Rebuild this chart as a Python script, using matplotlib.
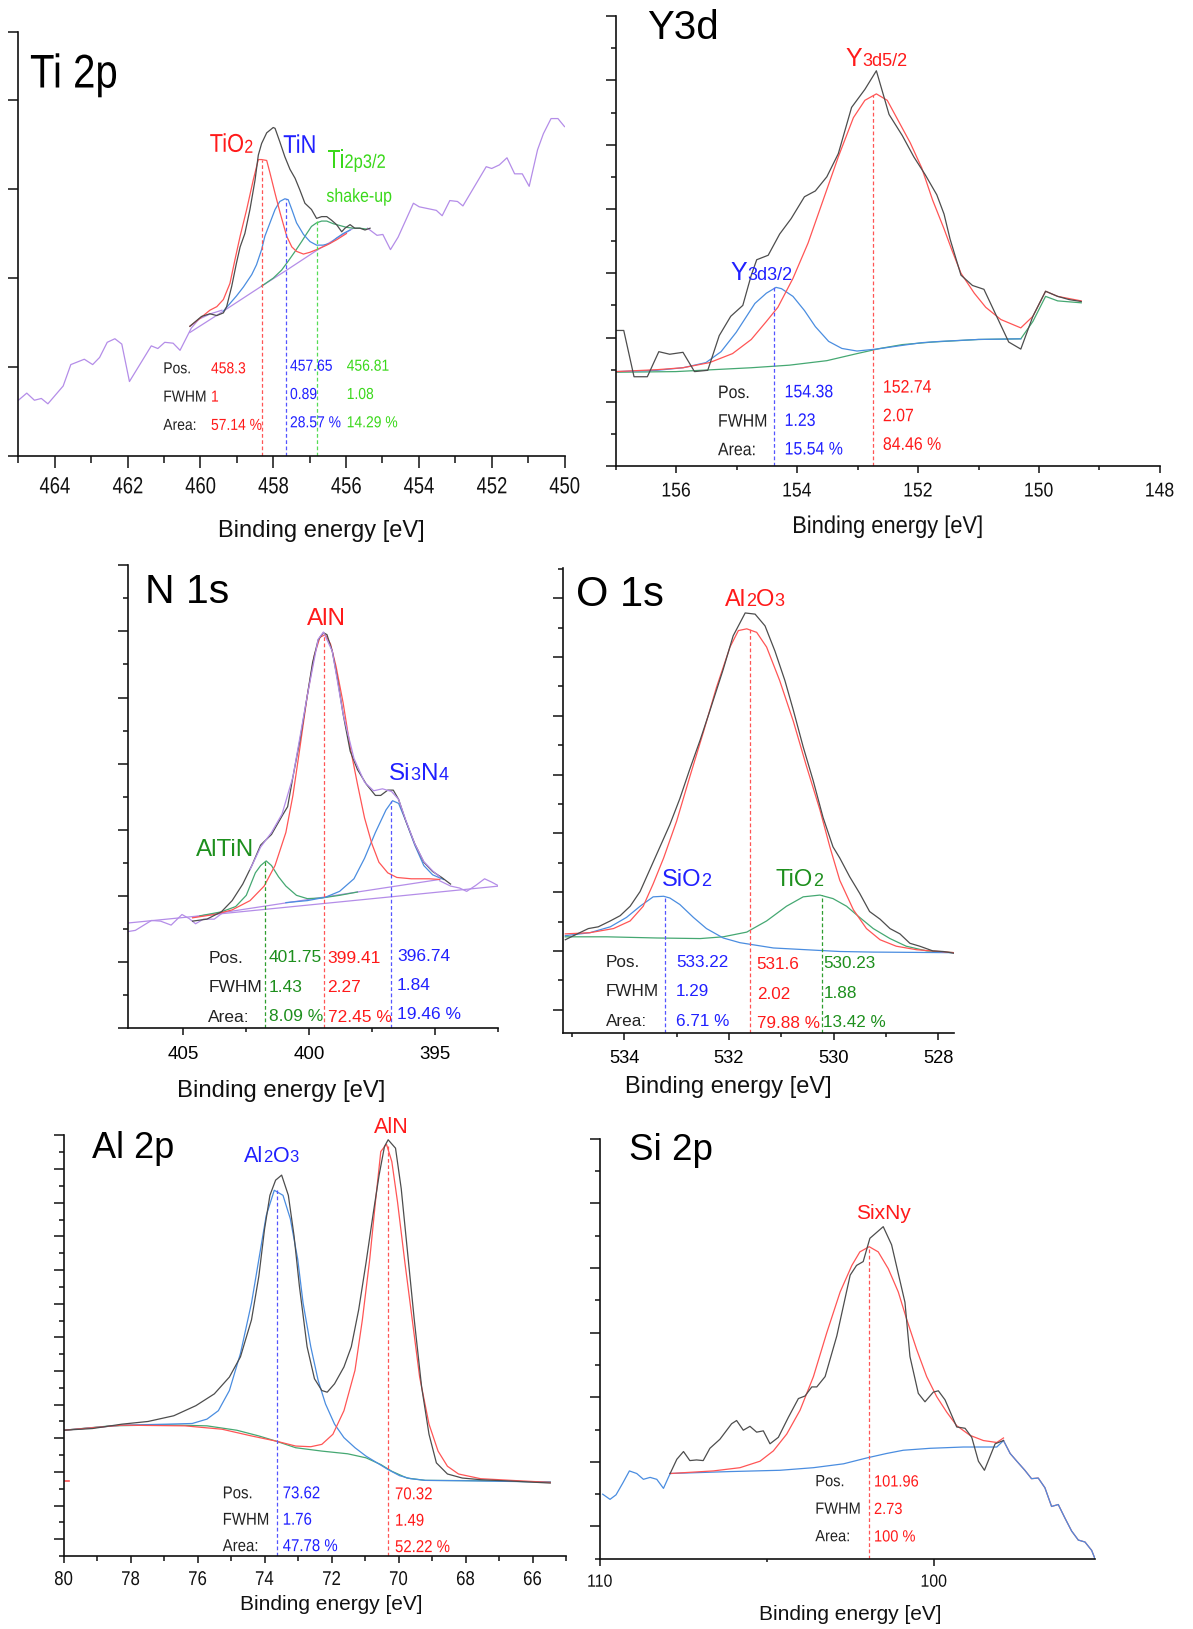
import matplotlib
matplotlib.use("Agg")
import matplotlib.pyplot as plt
from matplotlib.ticker import MultipleLocator, FixedLocator, FormatStrFormatter
from matplotlib.transforms import IdentityTransform, Affine2D
from matplotlib.textpath import TextPath
from matplotlib.patches import PathPatch
from matplotlib.font_manager import FontProperties

# ---------------- data (intensity in a.u., one major y tick = 10) ----------------
# Ti 2p
ti_bg_lx = [465.00, 464.77, 464.56, 464.37, 464.19, 463.77, 463.56, 463.19, 462.96, 462.77, 462.56, 462.35,
            462.16, 461.95, 461.35, 461.17, 460.98, 460.75, 460.56, 460.25, 460.04, 459.72, 459.41]
ti_bg_ly = [6.3, 7.1, 6.3, 6.5, 5.9, 7.9, 10.3, 10.9, 10.3, 11.1, 12.8, 13.2,
            12.6, 8.4, 12.4, 12.1, 12.8, 12.7, 11.9, 14.4, 15.4, 16.0, 16.4]
ti_bg_rx = [455.41, 455.15, 454.99, 454.78, 454.57, 454.15, 453.99, 453.52, 453.36, 453.15, 452.94, 452.79,
            452.15, 452.00, 451.79, 451.58, 451.37, 451.16, 450.97, 450.74, 450.58, 450.37, 450.18, 450.00]
ti_bg_ry = [25.6, 24.8, 24.9, 23.2, 24.6, 28.4, 28.0, 27.6, 27.0, 28.7, 28.6, 28.1,
            32.5, 32.3, 32.7, 33.5, 31.7, 31.7, 30.3, 34.4, 36.2, 37.9, 37.9, 37.0]
ti_env_x = [460.29, 459.97, 459.74, 459.55, 459.37, 459.28, 459.14, 459.01, 458.91, 458.78,
            458.64, 458.50, 458.41, 458.32, 458.18, 458.00, 457.95, 457.82, 457.68, 457.54,
            457.40, 457.27, 457.13, 456.95, 456.81, 456.67, 456.53, 456.40, 456.26, 456.12,
            456.03, 455.89, 455.76, 455.62, 455.48, 455.34]
ti_env_y = [14.6, 15.7, 16.0, 15.8, 16.1, 16.8, 19.1, 21.7, 23.5, 25.0,
            27.7, 31.0, 33.8, 35.1, 36.3, 36.9, 36.8, 35.3, 33.6, 32.2,
            31.2, 29.9, 28.4, 27.7, 26.7, 26.9, 26.9, 26.5, 26.0, 25.2,
            25.6, 26.0, 25.6, 25.6, 25.4, 25.6]
ti_base_x = [460.29, 459.37, 458.32, 457.63, 456.81, 455.80]
ti_base_y = [13.9, 16.3, 19.1, 20.9, 23.1, 25.6]
ti_tio2_x = [460.29, 460.01, 459.74, 459.55, 459.37, 459.19, 459.05, 458.91, 458.73, 458.55, 458.41, 458.32,
             458.18, 458.09, 457.95, 457.81, 457.63, 457.49, 457.36, 457.17, 456.99, 456.81, 456.53, 456.26, 455.99]
ti_tio2_y = [14.6, 15.5, 16.4, 16.8, 17.6, 19.4, 22.1, 24.7, 27.7, 31.0, 33.3, 33.3,
             33.2, 31.8, 29.5, 27.3, 24.7, 23.5, 23.0, 22.7, 22.9, 23.2, 23.7, 24.3, 25.0]
ti_tin_x = [459.37, 459.01, 458.82, 458.59, 458.46, 458.32, 458.23, 458.09, 457.95, 457.82, 457.68,
            457.59, 457.49, 457.36, 457.17, 456.99, 456.81, 456.63, 456.44, 456.26, 456.08, 455.89]
ti_tin_y = [16.3, 18.0, 19.0, 20.4, 21.5, 23.2, 24.7, 26.2, 27.7, 28.6, 28.9,
            28.8, 27.7, 26.2, 24.9, 24.1, 23.7, 23.7, 23.9, 24.5, 25.0, 25.4]
ti_shk_x = [458.32, 458.00, 457.77, 457.59, 457.40, 457.22, 457.08, 456.95, 456.81,
            456.67, 456.53, 456.35, 456.17, 455.99, 455.80, 455.62, 455.44]
ti_shk_y = [19.1, 20.0, 20.9, 21.9, 23.0, 24.1, 25.0, 25.8, 26.2,
            26.4, 26.4, 26.1, 25.9, 25.7, 25.6, 25.6, 25.5]
ti_pos = [458.3, 457.65, 456.81]
ti_top = [33.3, 28.9, 26.4]
ti_fwhm = ["1", "0.89", "1.08"]
ti_area = ["57.14 %", "28.57 %", "14.29 %"]

# Y 3d
y3_raw_x = [157.00, 156.87, 156.70, 156.48, 156.29, 156.11, 155.89, 155.70, 155.48, 155.29,
            155.10, 154.90, 154.76, 154.67, 154.48, 154.29, 154.10, 153.88, 153.70, 153.51,
            153.32, 153.10, 152.88, 152.69, 152.48, 152.26, 152.07, 151.88, 151.69, 151.57,
            151.47, 151.29, 151.10, 150.91, 150.69, 150.50, 150.30, 150.10, 149.89, 149.69,
            149.50, 149.30]
y3_raw_y = [21.1, 21.1, 13.9, 13.9, 17.8, 17.4, 17.7, 14.7, 14.9, 20.3,
            23.3, 25.0, 29.7, 32.1, 32.8, 36.1, 38.5, 41.9, 42.8, 45.0,
            48.6, 55.8, 58.6, 61.5, 54.7, 51.4, 48.1, 45.3, 42.2, 39.2,
            35.3, 29.7, 28.1, 27.5, 23.1, 19.3, 18.2, 23.3, 27.2, 26.4,
            25.9, 25.6]
y3_52_x = [157.00, 156.32, 155.89, 155.45, 155.07, 154.76, 154.51, 154.32, 154.07, 153.82,
           153.57, 153.32, 153.07, 152.88, 152.69, 152.51, 152.32, 152.13, 151.94, 151.76,
           151.57, 151.44, 151.29, 151.07, 150.88, 150.63, 150.30, 150.10, 149.89, 149.69, 149.30]
y3_52_y = [14.7, 15.0, 15.3, 16.1, 17.5, 19.7, 22.5, 24.7, 29.2, 34.7,
           41.4, 48.1, 54.2, 56.9, 57.9, 56.9, 53.6, 50.3, 46.4, 41.4,
           36.9, 33.6, 30.0, 26.9, 24.7, 22.8, 21.5, 23.3, 27.2, 26.4, 25.7]
y3_32_x = [157.00, 156.32, 155.89, 155.51, 155.26, 155.01, 154.70, 154.51, 154.35, 154.26,
           154.07, 153.88, 153.70, 153.48, 153.26, 153.01, 152.69, 152.32, 151.94, 151.63, 151.00, 150.30]
y3_32_y = [14.7, 14.9, 15.3, 16.1, 17.8, 20.8, 25.3, 26.9, 27.8, 27.6,
           26.4, 24.2, 21.7, 19.4, 18.3, 17.9, 18.2, 18.7, 19.2, 19.4, 19.7, 19.8]
y3_base_x = [157.00, 156.01, 155.39, 154.76, 154.13, 153.51, 153.01, 152.63, 152.26, 151.76,
             151.00, 150.30, 150.10, 149.89, 149.69, 149.30]
y3_base_y = [14.6, 14.7, 15.0, 15.3, 15.7, 16.4, 17.5, 18.3, 18.9, 19.3,
             19.7, 19.8, 22.5, 26.4, 25.7, 25.4]
y3_pos = [154.38, 152.74]
y3_top = [27.8, 57.7]
y3_fwhm = ["1.23", "2.07"]
y3_area = ["15.54 %", "84.46 %"]

# N 1s
n1_raw_lx = [407.22, 406.89, 406.25, 405.89, 405.47, 405.04, 404.76, 404.50, 404.19, 403.76, 403.48]
n1_raw_ly = [14.6, 14.8, 16.3, 16.2, 15.6, 17.2, 16.6, 15.8, 16.5, 16.5, 17.3]
n1_raw_rx = [394.82, 394.39, 394.03, 393.75, 393.39, 393.04, 392.76, 392.47]
n1_raw_ry = [22.3, 21.5, 21.2, 20.7, 21.6, 22.6, 22.1, 21.5]
n1_env_x = [404.62, 404.05, 403.48, 403.05, 402.63, 402.27, 401.92, 401.49, 401.07, 400.85,
            400.64, 400.36, 400.07, 399.86, 399.64, 399.43, 399.29, 399.08, 398.86, 398.65,
            398.37, 398.08, 397.73, 397.37, 397.16, 396.88, 396.66, 396.45, 396.16, 395.81,
            395.45, 395.10, 394.74, 394.39]
n1_env_y = [16.2, 16.5, 17.6, 19.3, 21.8, 24.6, 27.7, 29.3, 32.1, 33.5,
            38.0, 43.6, 50.3, 55.3, 58.7, 59.8, 59.5, 57.0, 52.5, 47.5,
            41.9, 39.1, 36.9, 35.2, 35.2, 36.0, 36.0, 34.6, 31.3, 27.9,
            25.1, 23.7, 22.8, 21.8]
n1_sum_x = [402.34, 401.92, 401.49, 401.07, 400.64, 400.07, 399.64, 399.43, 399.08, 398.65,
            398.22, 397.80, 397.44, 397.09, 396.73, 396.45, 396.16, 395.81, 395.45, 395.10, 394.82]
n1_sum_y = [24.0, 27.4, 29.6, 32.4, 38.0, 50.3, 58.8, 59.9, 57.0, 47.5,
            40.8, 37.2, 35.9, 36.2, 35.8, 34.6, 31.4, 27.9, 25.2, 23.8, 22.9]
n1_fitbase_x = [404.62, 394.82]
n1_fitbase_y = [16.8, 22.5]
n1_line_x = [407.22, 392.47]
n1_line_y = [15.9, 21.5]
n1_aln_x = [404.62, 403.76, 403.05, 402.34, 401.78, 401.35, 400.92, 400.64, 400.36, 400.07,
            399.79, 399.57, 399.36, 399.15, 398.93, 398.65, 398.37, 398.08, 397.80, 397.51,
            397.23, 396.88, 396.52, 395.95, 395.24, 394.82]
n1_aln_y = [16.7, 17.2, 17.9, 19.3, 21.5, 24.6, 29.6, 35.2, 42.5, 50.3,
            56.4, 59.1, 59.5, 58.1, 54.7, 49.2, 42.5, 36.9, 31.8, 27.9,
            25.1, 23.5, 22.8, 22.6, 22.6, 22.5]
n1_altin_x = [404.33, 403.48, 402.91, 402.49, 402.13, 401.92, 401.70, 401.49, 401.21, 400.92,
              400.50, 400.07, 399.50, 398.79, 398.08]
n1_altin_y = [17.0, 17.6, 18.4, 20.1, 23.5, 24.6, 25.3, 24.6, 22.9, 21.5,
              20.1, 19.6, 19.7, 20.1, 20.6]
n1_si3n4_x = [400.92, 400.07, 399.36, 398.79, 398.22, 397.80, 397.37, 396.95, 396.69, 396.45,
              396.16, 395.81, 395.45, 395.10, 394.67]
n1_si3n4_y = [19.0, 19.3, 19.8, 20.7, 22.6, 25.7, 29.6, 33.0, 34.4, 34.0,
              31.3, 27.7, 24.6, 23.2, 22.5]
n1_pos = [401.75, 399.41, 396.74]
n1_top = [25.3, 59.6, 34.4]
n1_fwhm = ["1.43", "2.27", "1.84"]
n1_area = ["8.09 %", "72.45 %", "19.46 %"]

# O 1s
o1_raw_x = [535.13, 534.97, 534.69, 534.50, 534.27, 534.08, 533.89, 533.70, 533.51, 533.32,
            533.13, 532.94, 532.75, 532.55, 532.36, 532.11, 531.92, 531.79, 531.69, 531.50,
            531.31, 531.12, 530.93, 530.77, 530.58, 530.39, 530.20, 530.01, 529.88, 529.69,
            529.50, 529.31, 529.11, 528.92, 528.73, 528.54, 528.35, 528.10, 527.90, 527.69]
o1_raw_y = [15.9, 16.6, 17.8, 18.1, 19.1, 20.0, 21.6, 24.1, 27.9, 31.7,
            35.5, 39.9, 44.9, 49.9, 55.0, 61.9, 67.6, 69.8, 71.5, 71.3,
            69.3, 65.0, 60.0, 55.0, 48.7, 43.0, 36.7, 31.7, 29.8, 26.6,
            23.8, 20.7, 19.4, 17.8, 16.9, 15.3, 14.8, 14.0, 13.9, 13.6]
o1_al2o3_x = [535.13, 534.66, 534.21, 533.89, 533.64, 533.45, 533.25, 533.00, 532.75, 532.49,
              532.24, 531.98, 531.82, 531.66, 531.47, 531.28, 531.03, 530.77, 530.52, 530.26,
              530.07, 529.88, 529.62, 529.37, 529.11, 528.80, 528.41, 527.97, 527.69]
o1_al2o3_y = [16.9, 17.1, 17.8, 19.1, 21.6, 25.4, 29.8, 36.1, 43.6, 51.2,
              58.8, 65.7, 68.5, 68.8, 68.2, 65.7, 60.0, 53.1, 45.5, 38.0,
              31.7, 26.0, 21.0, 17.8, 15.9, 14.8, 14.2, 13.9, 13.7]
o1_sio2_x = [535.13, 534.66, 534.27, 533.96, 533.70, 533.45, 533.25, 533.13, 532.94, 532.68,
             532.43, 532.11, 531.79, 531.15, 530.52, 529.88, 529.24, 527.69]
o1_sio2_y = [16.6, 17.1, 18.1, 19.7, 21.6, 23.2, 23.3, 23.0, 21.9, 19.7,
             17.8, 16.2, 15.4, 14.5, 14.2, 13.9, 13.8, 13.7]
o1_tio2_x = [535.13, 534.34, 533.38, 532.55, 532.11, 531.66, 531.28, 530.90, 530.58, 530.26,
             530.01, 529.75, 529.50, 529.24, 528.92, 528.61, 528.22, 527.69]
o1_tio2_y = [16.4, 16.4, 16.2, 16.1, 16.4, 17.2, 19.1, 21.6, 23.2, 23.5,
             22.9, 21.6, 19.7, 17.8, 16.1, 14.8, 14.0, 13.7]
o1_pos = [533.22, 531.6, 530.23]
o1_top = [23.3, 68.8, 23.5]
o1_fwhm = ["1.29", "2.02", "1.88"]
o1_area = ["6.71 %", "79.88 %", "13.42 %"]

# Al 2p
al_raw_x = [80.00, 79.14, 78.26, 77.48, 76.71, 76.05, 75.50, 75.05, 74.72, 74.39,
            74.17, 74.00, 73.84, 73.67, 73.49, 73.29, 73.12, 72.96, 72.73, 72.51,
            72.29, 72.13, 71.91, 71.63, 71.41, 71.19, 70.97, 70.75, 70.58, 70.42,
            70.31, 70.09, 69.92, 69.75, 69.53, 69.31, 69.09, 68.87, 68.54, 68.10,
            67.55, 66.44, 65.47]
al_raw_y = [37.4, 37.9, 39.2, 40.0, 41.7, 44.7, 48.2, 53.2, 59.2, 70.2,
            83.2, 97.2, 107.2, 111.7, 113.2, 107.2, 95.2, 80.2, 62.2, 52.7,
            49.2, 48.7, 51.2, 56.2, 62.2, 73.2, 87.2, 102.2, 113.2, 121.7,
            123.7, 121.2, 109.2, 92.2, 70.2, 50.2, 36.2, 27.7, 24.4, 23.2,
            22.7, 22.2, 21.7]
al_ox_x = [80.00, 78.26, 76.93, 76.16, 75.72, 75.38, 75.05, 74.72, 74.39, 74.17,
           73.95, 73.71, 73.45, 73.23, 73.01, 72.85, 72.62, 72.40, 72.18, 71.91,
           71.63, 71.30, 70.97, 70.64, 70.31, 69.97, 69.64, 69.20, 68.10, 65.47]
al_ox_y = [37.4, 38.9, 39.2, 39.4, 40.7, 43.2, 49.2, 60.2, 75.2, 88.2,
           101.2, 108.7, 107.2, 100.2, 88.2, 75.2, 62.2, 52.2, 45.2, 39.2,
           35.2, 32.2, 29.7, 27.7, 25.7, 23.9, 23.0, 22.5, 22.4, 22.0]
al_aln_x = [80.00, 78.26, 76.38, 75.27, 74.39, 73.67, 73.07, 72.62, 72.29, 71.96,
            71.63, 71.30, 71.08, 70.86, 70.69, 70.53, 70.36, 70.20, 70.03, 69.81,
            69.59, 69.37, 69.09, 68.82, 68.54, 68.21, 67.55, 66.44, 65.47]
al_aln_y = [37.4, 38.9, 38.7, 37.7, 35.7, 34.2, 32.7, 32.5, 33.2, 36.2,
            43.2, 55.2, 70.2, 88.2, 105.2, 120.2, 122.4, 117.2, 105.2, 87.2,
            70.2, 53.2, 39.2, 31.2, 26.7, 24.4, 23.0, 22.4, 21.9]
al_base_x = [80.00, 78.59, 76.93, 75.72, 74.83, 74.17, 73.67, 73.07, 72.29, 71.52,
             70.97, 70.53, 70.20, 69.75, 69.20, 67.55, 65.47]
al_base_y = [37.4, 38.7, 39.0, 38.7, 37.4, 35.7, 34.2, 32.2, 31.2, 30.4,
             29.2, 27.2, 25.2, 23.2, 22.5, 22.4, 22.0]
al_stub_x = [80.00, 79.85]
al_stub_y = [22.4, 22.4]
al_pos = [73.62, 70.32]
al_top = [108.7, 122.4]
al_fwhm = ["1.76", "1.49"]
al_area = ["47.78 %", "52.22 %"]

# Si 2p
si_raw_lx = [109.92, 109.70, 109.52, 109.32, 109.12, 108.90, 108.70, 108.50, 108.30, 108.10, 107.90]
si_raw_ly = [10.0, 9.2, 9.9, 11.7, 13.6, 13.2, 12.3, 12.6, 12.3, 10.9, 13.2]
si_raw_x = [107.90, 107.70, 107.50, 107.31, 107.11, 106.91, 106.71, 106.41, 106.06, 105.91,
            105.71, 105.51, 105.31, 105.11, 104.91, 104.66, 104.36, 104.06, 103.86, 103.66,
            103.51, 103.26, 102.91, 102.51, 102.32, 102.12, 101.92, 101.52, 101.27, 100.87,
            100.72, 100.47, 100.27, 100.02, 99.87, 99.67, 99.32, 99.07, 98.87, 98.67,
            98.49, 98.17, 97.92]
si_raw_y = [13.2, 15.4, 16.6, 15.2, 15.3, 15.2, 17.1, 18.5, 20.9, 21.4,
            19.9, 20.5, 19.6, 19.8, 17.8, 18.8, 21.9, 24.8, 25.2, 26.6,
            26.6, 28.2, 34.5, 43.9, 45.4, 46.0, 49.6, 51.4, 48.6, 39.7,
            31.3, 25.6, 24.3, 25.8, 26.0, 24.6, 20.4, 20.2, 18.8, 15.1,
            13.7, 17.8, 18.3]
si_raw_rx = [97.92, 97.72, 97.52, 97.28, 97.08, 96.88, 96.68, 96.48, 96.28, 96.08,
             95.88, 95.68, 95.48, 95.28, 95.18]
si_raw_ry = [18.3, 16.3, 15.1, 13.7, 12.4, 12.5, 11.0, 8.1, 8.4, 6.3,
             4.3, 2.9, 2.6, 1.3, 0.0]
si_sixny_x = [107.90, 106.61, 105.81, 105.21, 104.81, 104.41, 104.01, 103.61, 103.21, 102.81,
              102.46, 102.22, 101.94, 101.67, 101.37, 101.07, 100.82, 100.52, 100.22, 99.92,
              99.62, 99.32, 98.92, 98.52, 98.12, 97.92]
si_sixny_y = [13.2, 13.6, 14.1, 15.1, 16.7, 19.3, 23.0, 28.2, 35.0, 41.3,
              45.4, 47.5, 48.3, 47.5, 44.9, 41.3, 37.1, 32.4, 28.2, 25.1,
              22.7, 20.6, 19.1, 18.3, 18.0, 18.7]
si_base_x = [107.90, 106.11, 104.61, 103.61, 102.71, 102.02, 101.42, 100.92, 100.12, 99.12, 98.12, 97.92]
si_base_y = [13.2, 13.5, 13.7, 14.1, 14.7, 15.6, 16.3, 16.8, 17.1, 17.3, 17.3, 18.3]
si_pos = [101.96]
si_top = [48.3]
si_fwhm = ["2.73"]
si_area = ["100 %"]

# ---------------- style ----------------
W, H = 1193, 1629
fig = plt.figure(figsize=(W / 100, H / 100), dpi=100)
REG = "Liberation Sans"
plt.rcParams["font.family"] = [REG, "DejaVu Sans"]
FP = FontProperties(family=REG)

GREY = "#4d4d4d"
PURPLE = "#b48de8"
RED_L = "#ff5555"
BLUE_L = "#4a8de0"
GREEN_L = "#45a872"
RED_T = "#ff1a1a"
BLUE_T = "#2020ff"
GREEN_T = "#1d8f1d"
LIME_T = "#3ad81a"
DARK = "#222222"
ID = IdentityTransform()


def new_axes(box):
    l, t, r, b = box
    ax = fig.add_axes([l / W, 1 - b / H, (r - l) / W, (b - t) / H])
    ax.patch.set_visible(False)
    ax.spines["top"].set_visible(False)
    ax.spines["right"].set_visible(False)
    for s in ("left", "bottom"):
        ax.spines[s].set_linewidth(1.2)
        ax.spines[s].set_color("#111111")
    return ax


def ticks(ax, xlim, ylim, xmaj, xmin, ymaj, ymin, yoff, size, pad, xlen=(4.8, 3.2)):
    ax.set_xlim(xlim)
    ax.set_ylim(ylim)
    ax.xaxis.set_major_locator(MultipleLocator(xmaj))
    ax.xaxis.set_minor_locator(MultipleLocator(xmin))
    ax.xaxis.set_major_formatter(FormatStrFormatter("%d"))
    if ymaj is None:
        ax.yaxis.set_major_locator(FixedLocator(ymin))
    else:
        ax.yaxis.set_major_locator(MultipleLocator(ymaj, offset=yoff))
        ax.yaxis.set_minor_locator(MultipleLocator(ymin, offset=yoff))
    ax.tick_params(axis="x", which="major", direction="out", length=xlen[0], width=1.1,
                   labelsize=size, pad=pad, color="#111111")
    ax.tick_params(axis="x", which="minor", direction="out", length=xlen[1], width=1.1, color="#111111")
    ax.tick_params(axis="y", which="major", direction="out", length=7, width=1.1,
                   labelleft=False, color="#111111")
    ax.tick_params(axis="y", which="minor", direction="out", length=3.6, width=1.1, color="#111111")


def ptext(x, yb, s, size, color, sx, ha="left"):
    # text drawn as a path, squeezed horizontally by sx (narrow lettering)
    em = size * 100 / 72
    tp = TextPath((0, 0), s, size=em, prop=FP)
    ext = tp.get_extents()
    if ha == "center":
        x -= (ext.x0 + ext.x1) / 2 * sx
    tr = Affine2D().scale(sx, 1).translate(x, H - yb)
    fig.add_artist(PathPatch(tp, transform=tr, facecolor=color, edgecolor="none", lw=0))
    return x + (ext.x1 + 0.06 * em) * sx


def label(x, yb, parts, color, sx=1.0, ha="left"):
    # parts: (text, size, dy) drawn one after another on a common baseline
    r = fig.canvas.get_renderer()
    objs = []
    cur = x
    for s, size, dy in parts:
        if sx != 1.0:
            cur = ptext(cur, yb + dy, s, size, color, sx)
            continue
        t = fig.text(cur, H - yb - dy, s, fontsize=size, color=color,
                     transform=ID, ha="left", va="baseline")
        cur = t.get_window_extent(r).x1
        objs.append(t)
    if ha == "center":
        shift = (cur - x) / 2
        for t in objs:
            t.set_x(t.get_position()[0] - shift)


def xlabel(cx, yb, size, sx=1.0):
    if sx != 1.0:
        ptext(cx, yb, "Binding energy [eV]", size, "#111111", sx, ha="center")
    else:
        fig.text(cx, H - yb, "Binding energy [eV]", fontsize=size,
                 transform=ID, ha="center", va="baseline", color="#111111")


def path_ticks(ax, yb, size, sx):
    ax.tick_params(axis="x", labelbottom=False)
    lo, hi = sorted(ax.get_xlim())
    for v in ax.xaxis.get_major_locator()():
        if lo - 1e-6 <= v <= hi + 1e-6:
            xd = ax.transData.transform((v, 0))[0]
            ptext(xd, yb, "%d" % round(v), size, "#111111", sx, ha="center")


def table(x0, base, xs, offs, vals, colors, size, sx=1.0, dy=28.6):
    for i, name in enumerate(["Pos.", "FWHM", "Area:"]):
        label(x0, base + i * dy, [(name, size, 0)], DARK, sx)
    for x, off, col, c in zip(xs, offs, vals, colors):
        for i, v in enumerate(col):
            label(x, base + off + i * dy, [(v, size, 0)], c, sx)


def dashes(ax, xs, tops, colors):
    for x, t, c in zip(xs, tops, colors):
        ax.vlines(x, 0, t, colors=c, linestyles=(0, (3, 2)), lw=0.9)


# ---------------- Ti 2p ----------------
ax = new_axes((18.4, 32.1, 564.5, 456.4))
ticks(ax, (465, 450), (0, 47.6), 2, 1, None, [0, 10, 20, 30, 40, 47.6], 0, 16, 10, xlen=(8.5, 4.8))
ax.plot(ti_bg_lx, ti_bg_ly, color=PURPLE, lw=0.9)
ax.plot(ti_bg_rx, ti_bg_ry, color=PURPLE, lw=0.9)
ax.plot(ti_base_x, ti_base_y, color=PURPLE, lw=0.9)
ax.plot(ti_shk_x, ti_shk_y, color=GREEN_L, lw=0.9)
ax.plot(ti_tin_x, ti_tin_y, color=BLUE_L, lw=0.9)
ax.plot(ti_tio2_x, ti_tio2_y, color=RED_L, lw=0.9)
ax.plot(ti_env_x, ti_env_y, color=GREY, lw=0.9)
dashes(ax, ti_pos, ti_top, [RED_L, "#5555ff", "#55dd55"])
path_ticks(ax, 493.3, 16.8, 0.79)
label(30, 87.5, [("Ti 2p", 34, 0)], "#000000", 0.85)
label(209.7, 151.8, [("TiO", 18.5, 0), ("2", 13.5, 1)], RED_T, 0.85)
label(283.2, 152.9, [("TiN", 18.5, 0)], BLUE_T, 0.85)
label(327.2, 167.9, [("Ti", 18.5, 0), ("2p3/2", 14, 0)], LIME_T, 0.85)
label(326.4, 201.8, [("shake-up", 13.5, 0)], LIME_T, 0.85)
table(163.3, 373.3, [211, 290, 346.7], [0, -2.6, -2.6],
      [[str(ti_pos[0]), ti_fwhm[0], ti_area[0]],
       [str(ti_pos[1]), ti_fwhm[1], ti_area[1]],
       [str(ti_pos[2]), ti_fwhm[2], ti_area[2]]],
      [RED_T, BLUE_T, LIME_T], 11.5, 0.87, dy=28.3)
xlabel(321, 537, 17)

# ---------------- Y3d ----------------
ax = new_axes((615.9, 16.1, 1159.8, 466.1))
ticks(ax, (157, 148), (0, 70), 2, 1, 10, 5, 0, 13, 7.5)
ax.plot(y3_base_x, y3_base_y, color=GREEN_L, lw=0.9)
ax.plot(y3_32_x, y3_32_y, color=BLUE_L, lw=0.9)
ax.plot(y3_52_x, y3_52_y, color=RED_L, lw=0.9)
ax.plot(y3_raw_x, y3_raw_y, color=GREY, lw=0.9)
dashes(ax, y3_pos, y3_top, ["#5555ff", RED_L])
path_ticks(ax, 496.5, 14.4, 0.88)
label(647.3, 39.3, [("Y3d", 29, 0)], "#000000")
label(845.8, 66.1, [("Y", 18, 0), ("3d5/2", 13, 0)], RED_T)
label(730.5, 280.4, [("Y", 18, 0), ("3d3/2", 13, 0)], BLUE_T)
table(718, 398, [784.6, 882.9], [-0.7, -5.4],
      [[str(y3_pos[0]), y3_fwhm[0], y3_area[0]], [str(y3_pos[1]), y3_fwhm[1], y3_area[1]]],
      [BLUE_T, RED_T], 13, 0.88)
xlabel(887.8, 533, 17.5, 0.9)

# ---------------- N 1s ----------------
ax = new_axes((127.5, 565.2, 498.2, 1028.3))
ticks(ax, (407.2, 392.5), (0, 70), 5, 2.5, 10, 5, 0, 13.5, 8.2)
ax.plot(n1_line_x, n1_line_y, color=PURPLE, lw=0.9)
ax.plot(n1_fitbase_x, n1_fitbase_y, color=PURPLE, lw=0.9)
ax.plot(n1_raw_lx, n1_raw_ly, color=PURPLE, lw=0.9)
ax.plot(n1_raw_rx, n1_raw_ry, color=PURPLE, lw=0.9)
ax.plot(n1_altin_x, n1_altin_y, color=GREEN_L, lw=0.9)
ax.plot(n1_si3n4_x, n1_si3n4_y, color=BLUE_L, lw=0.9)
ax.plot(n1_aln_x, n1_aln_y, color=RED_L, lw=0.9)
ax.plot(n1_env_x, n1_env_y, color=GREY, lw=0.9)
ax.plot(n1_sum_x, n1_sum_y, color=PURPLE, lw=0.9)
dashes(ax, n1_pos, n1_top, ["#2e9e2e", RED_L, "#5555ff"])
label(144.6, 602.9, [("N 1s", 29.5, 0)], "#000000")
label(326.3, 625.1, [("AlN", 17.5, 0)], RED_T, ha="center")
label(195.7, 856.3, [("AlTiN", 17.5, 0)], GREEN_T)
label(389.3, 779.7, [("Si", 17.5, 0), ("3", 13, 0), ("N", 17.5, 0), ("4", 13, 0)], BLUE_T)
table(208.2, 963.3, [268.6, 327.5, 397.1], [-0.8, 0, -2.7],
      [[str(n1_pos[0]), n1_fwhm[0], n1_area[0]],
       [str(n1_pos[1]), n1_fwhm[1], n1_area[1]],
       [str(n1_pos[2]), n1_fwhm[2], n1_area[2]]],
      [GREEN_T, RED_T, BLUE_T], 12.5, dy=29.2)
xlabel(281, 1097, 17.2)

# ---------------- O 1s ----------------
ax = new_axes((562.7, 567.7, 954.3, 1033.2))
ticks(ax, (535.18, 527.69), (0, 79.2), 2, 1, 10, 5, 4, 13.2, 7.4)
ax.plot(o1_tio2_x, o1_tio2_y, color=GREEN_L, lw=0.9)
ax.plot(o1_sio2_x, o1_sio2_y, color=BLUE_L, lw=0.9)
ax.plot(o1_al2o3_x, o1_al2o3_y, color=RED_L, lw=0.9)
ax.plot(o1_raw_x, o1_raw_y, color=GREY, lw=0.9)
dashes(ax, o1_pos, o1_top, ["#5555ff", RED_L, "#2e9e2e"])
label(576, 605.9, [("O 1s", 30, 0)], "#000000")
label(725, 605.5, [("Al", 17, 0), ("2", 13, 0), ("O", 17, 0), ("3", 13, 0)], RED_T)
label(661.7, 885.9, [("SiO", 17, 0), ("2", 13, 0)], BLUE_T)
label(776, 885.9, [("TiO", 17, 0), ("2", 13, 0)], GREEN_T)
table(606, 966.7, [676, 756.7, 823.3], [0, 2.3, 1.2],
      [[str(o1_pos[0]), o1_fwhm[0], o1_area[0]],
       [str(o1_pos[1]), o1_fwhm[1], o1_area[1]],
       [str(o1_pos[2]), o1_fwhm[2], o1_area[2]]],
      [BLUE_T, RED_T, GREEN_T], 12.3, dy=29.6)
xlabel(728.8, 1093.5, 17)

# ---------------- Al 2p ----------------
ax = new_axes((63.6, 1135.4, 566, 1556.1))
ticks(ax, (80, 65), (0, 125), 2, 1, 10, 5, 5, 12.5, 7, xlen=(4.8, 3.4))
ax.plot(al_base_x, al_base_y, color=GREEN_L, lw=0.9)
ax.plot(al_ox_x, al_ox_y, color=BLUE_L, lw=0.9)
ax.plot(al_aln_x, al_aln_y, color=RED_L, lw=0.9)
ax.plot(al_raw_x, al_raw_y, color=GREY, lw=0.9)
ax.plot(al_stub_x, al_stub_y, color=RED_L, lw=1.2)
dashes(ax, al_pos, al_top, ["#5555ff", RED_L])
path_ticks(ax, 1585, 14.4, 0.84)
label(92.5, 1158, [("Al 2p", 26, 0)], "#000000")
label(244.2, 1162.4, [("Al", 15.5, 0), ("2", 12, 0), ("O", 15.5, 0), ("3", 12, 0)], BLUE_T)
label(373.7, 1132.7, [("AlN", 15.5, 0)], RED_T)
table(222.7, 1498.3, [282.7, 395], [0, 1],
      [[str(al_pos[0]), al_fwhm[0], al_area[0]], [str(al_pos[1]), al_fwhm[1], al_area[1]]],
      [BLUE_T, RED_T], 12.4, 0.87, dy=26.4)
xlabel(331.7, 1610, 15)

# ---------------- Si 2p ----------------
ax = new_axes((600, 1138.8, 1095, 1558.8))
ticks(ax, (110, 95.18), (0, 65), 10, 5, 10, 5, 5, 12.5, 6.9, xlen=(4.8, 2.5))
ax.plot(si_raw_rx, si_raw_ry, color=RED_L, lw=0.9)
ax.plot(si_base_x, si_base_y, color=BLUE_L, lw=0.9)
ax.plot(si_raw_lx, si_raw_ly, color=BLUE_L, lw=0.9)
ax.plot(si_raw_rx, si_raw_ry, color=BLUE_L, lw=0.9)
ax.plot(si_sixny_x, si_sixny_y, color=RED_L, lw=0.9)
ax.plot(si_raw_x, si_raw_y, color=GREY, lw=0.9)
dashes(ax, si_pos, si_top, [RED_L])
path_ticks(ax, 1586.7, 12.7, 0.9)
label(629.3, 1160, [("Si 2p", 26.5, 0)], "#000000")
label(856, 1218.8, [("SixNy", 15, 0)], RED_T)
table(815.3, 1486.2, [874], [0.3], [[str(si_pos[0]), si_fwhm[0], si_area[0]]], [RED_T], 11.7, 0.9, dy=27.5)
xlabel(850.3, 1620, 15)

fig.savefig("out.png", dpi=100)
